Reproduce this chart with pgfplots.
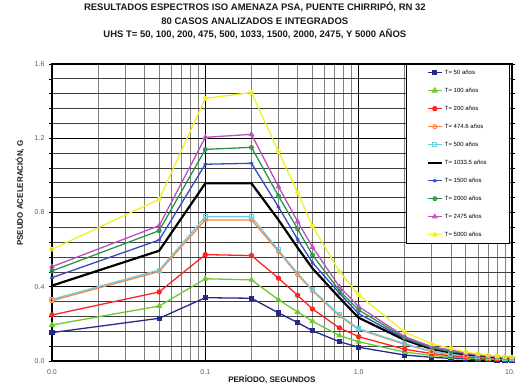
\documentclass[border=0pt]{standalone}
\usepackage{pgfplots}
\pgfplotsset{compat=1.18}
\usepackage{pgfplotstable}
\usepackage{fontspec}
\setmainfont{Liberation Sans}

\definecolor{cNavy}{RGB}{40,40,135}
\definecolor{cLGreen}{RGB}{110,200,50}
\definecolor{cRed}{RGB}{255,35,35}
\definecolor{cOrange}{RGB}{255,130,60}
\definecolor{cCyan}{RGB}{110,205,220}
\definecolor{cBlue}{RGB}{55,75,190}
\definecolor{cGreen}{RGB}{40,150,70}
\definecolor{cMagenta}{RGB}{190,80,190}
\definecolor{cYellow}{RGB}{240,240,40}

\pgfplotstableread{
x     t50   t100  t200  t475  t500  t1033 t1500 t2000 t2475 t5000
0.01  0.153 0.194 0.248 0.325 0.332 0.406 0.449 0.485 0.508 0.602
0.05  0.230 0.296 0.372 0.482 0.490 0.594 0.652 0.702 0.729 0.871
0.1   0.341 0.443 0.573 0.760 0.777 0.957 1.060 1.140 1.205 1.415
0.2   0.338 0.437 0.568 0.760 0.777 0.957 1.065 1.151 1.221 1.446
0.3   0.259 0.330 0.446 0.590 0.598 0.760 0.830 0.889 0.939 1.128
0.4   0.207 0.264 0.354 0.465 0.472 0.610 0.655 0.711 0.751 0.907
0.5   0.163 0.214 0.280 0.378 0.383 0.499 0.530 0.571 0.613 0.727
0.75  0.104 0.137 0.178 0.243 0.248 0.340 0.365 0.378 0.400 0.481
1.0   0.074 0.104 0.131 0.170 0.174 0.233 0.255 0.275 0.293 0.357
2.0   0.032 0.048 0.063 0.090 0.093 0.113 0.120 0.125 0.131 0.155
3.0   0.020 0.030 0.040 0.050 0.052 0.065 0.070 0.073 0.077 0.092
4.0   0.014 0.021 0.028 0.036 0.037 0.046 0.050 0.052 0.059 0.068
5.0   0.011 0.016 0.022 0.028 0.029 0.036 0.039 0.041 0.042 0.048
6.0   0.009 0.013 0.018 0.023 0.024 0.029 0.031 0.033 0.033 0.038
7.0   0.007 0.011 0.015 0.019 0.020 0.024 0.026 0.027 0.027 0.031
8.0   0.006 0.009 0.012 0.016 0.017 0.020 0.022 0.023 0.023 0.026
9.0   0.005 0.008 0.011 0.014 0.015 0.018 0.019 0.020 0.020 0.022
10.0  0.005 0.007 0.010 0.012 0.013 0.016 0.017 0.018 0.018 0.020
}\spectra

\begin{document}
\begin{tikzpicture}
\begin{axis}[
  name=ax,
  scale only axis,
  width=460pt, height=297pt,
  xmode=log,
  xmin=0.01, xmax=10,
  ymin=0, ymax=1.6,
  xtick={0.01,0.1,1,10},
  xticklabels={0.0,0.1,1.0,10.0},
  ytick={0,0.4,0.8,1.2,1.6},
  yticklabels={0.0,0.4,0.8,1.2,1.6},
  minor y tick num=4,
  grid=both,
  major grid style={black, line width=1.2pt},
  minor x grid style={black!50, line width=0.9pt},
  minor y grid style={black!75, line width=0.7pt},
  axis line style={black, line width=1.2pt},
  tick align=outside,
  xtick style={draw=none},
  ytick style={black, line width=0.6pt},
  major tick length=3pt,
  minor tick length=3pt,
  tick label style={font=\fontsize{7}{8}\selectfont, text=black!65},
  yticklabel style={xshift=-1pt},
  xticklabel style={yshift=-2pt},
  title={RESULTADOS ESPECTROS ISO AMENAZA PSA, PUENTE CHIRRIPÓ, RN 32\\80 CASOS ANALIZADOS E INTEGRADOS\\UHS T= 50, 100, 200, 475, 500, 1033, 1500, 2000, 2475, Y 5000 AÑOS},
  title style={at={(0.441,1.1246)}, anchor=center, align=center, font=\bfseries\fontsize{9.5}{13.5}\selectfont, text=black!90},
  xlabel={PERÍODO, SEGUNDOS},
  xlabel style={at={(0.478,-0.064)}, anchor=center, font=\bfseries\fontsize{8}{9}\selectfont, text=black!90},
  ylabel={PSEUDO ACELERACIÓN, G},
  ylabel style={at={(-0.0696,0.565)}, anchor=center, font=\bfseries\fontsize{8}{9}\selectfont, text=black!90},
  clip=false,
  legend cell align=left,
  legend style={at={(0.9935,1)}, anchor=north east, draw=black, line width=0.5pt,
    font=\fontsize{6}{7}\selectfont, row sep=8.2pt, inner xsep=20pt, inner ysep=3.5pt,
    fill=white},
  legend image code/.code={\draw[mark repeat=2,mark phase=2] plot coordinates {(0pt,0pt) (7pt,0pt) (14pt,0pt)};},
  every axis plot/.append style={line width=1.3pt, mark size=2pt},
]
\addplot[color=cNavy, mark=square*, mark options={fill=cNavy}] table[x=x,y=t50]{\spectra};
\addlegendentry{T= 50 años}
\addplot[color=cLGreen, mark=triangle*, mark size=2.4pt, mark options={fill=cLGreen}] table[x=x,y=t100]{\spectra};
\addlegendentry{T= 100 años}
\addplot[color=cRed, mark=*, mark options={fill=cRed}] table[x=x,y=t200]{\spectra};
\addlegendentry{T= 200 años}
\addplot[color=cOrange, mark=o, mark options={line width=1pt}] table[x=x,y=t475]{\spectra};
\addlegendentry{T= 474.6 años}
\addplot[color=cCyan, mark=square, mark options={line width=1pt}] table[x=x,y=t500]{\spectra};
\addlegendentry{T= 500 años}
\addplot[color=black, line width=2.2pt, mark=none] table[x=x,y=t1033]{\spectra};
\addlegendentry{T= 1033.5 años}
\addplot[color=cBlue, mark=asterisk, mark options={line width=0.8pt}] table[x=x,y=t1500]{\spectra};
\addlegendentry{T= 1500 años}
\addplot[color=cGreen, mark=oplus, mark options={line width=0.9pt}] table[x=x,y=t2000]{\spectra};
\addlegendentry{T= 2000 años}
\addplot[color=cMagenta, mark=triangle, mark size=2.4pt, mark options={line width=1pt}] table[x=x,y=t2475]{\spectra};
\addlegendentry{T= 2475 años}
\addplot[color=cYellow, mark=oplus, mark options={line width=0.9pt}] table[x=x,y=t5000]{\spectra};
\addlegendentry{T= 5000 años}
\end{axis}
\pgfresetboundingbox
\path ([shift={(-52pt,-24pt)}]ax.south west) rectangle ([shift={(3pt,64pt)}]ax.north east);
\end{tikzpicture}
\end{document}
